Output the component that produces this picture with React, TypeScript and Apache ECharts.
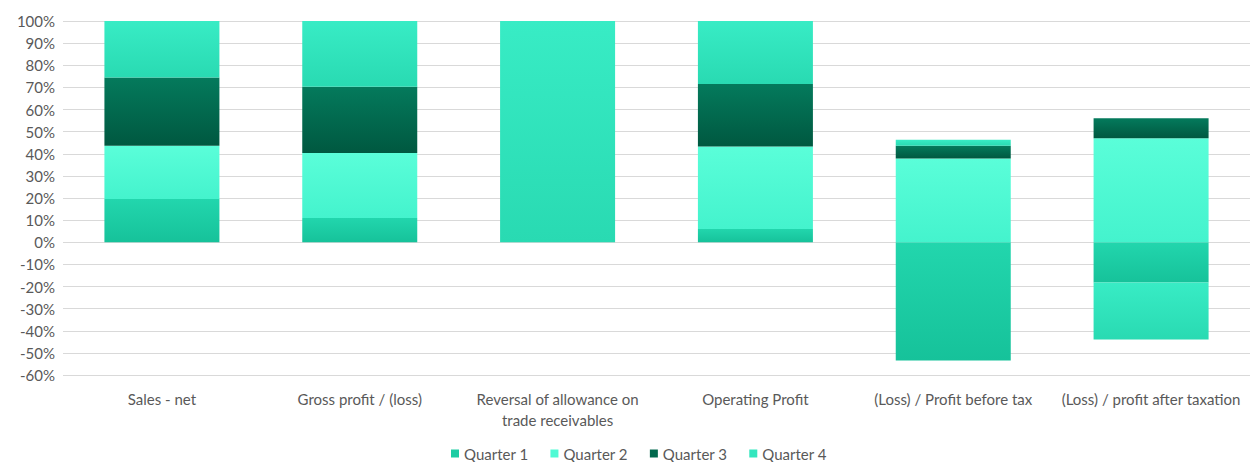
import React, { useEffect, useRef } from "react";
import * as echarts from "echarts";

const categories = [
  "Sales - net",
  "Gross profit / (loss)",
  "Reversal of allowance on\ntrade receivables",
  "Operating Profit",
  "(Loss) / Profit before tax",
  "(Loss) / profit after taxation",
];
const seriesNames = ["Quarter 1", "Quarter 2", "Quarter 3", "Quarter 4"];
const quarter1 = [19.5, 11, 0, 6, -53.5, -18.2];
const quarter2 = [24.1, 29.3, 0, 37.3, 37.9, 47];
const quarter3 = [30.9, 30, 0, 28.2, 5.7, 9];
const quarter4 = [25.5, 29.7, 100, 28.5, 2.7, -25.8];
const yMin = -60;
const yMax = 100;
const yStep = 10;

const palette = [
  { top: "#22d6ad", bottom: "#16c29a", legend: "#1dcca3" },
  { top: "#5afed9", bottom: "#44f3cd", legend: "#4ffad4" },
  { top: "#047a5c", bottom: "#005840", legend: "#02694e" },
  { top: "#38ecc5", bottom: "#29dab2", legend: "#33e6be" },
];

const FONT = "Lato, 'Open Sans', sans-serif";
const TEXT = "#595959";

export default function App() {
  const ref = useRef<HTMLDivElement>(null);
  useEffect(() => {
    if (!ref.current) return;
    const chart = echarts.init(ref.current, undefined, { renderer: "svg" });
    const values = [quarter1, quarter2, quarter3, quarter4];
    chart.setOption({
      animation: false,
      backgroundColor: "#ffffff",
      textStyle: { fontFamily: FONT },
      grid: { left: 63, right: 0, top: 21, bottom: 87, containLabel: false },
      legend: {
        top: 445,
        left: 451,
        padding: 0,
        itemWidth: 8,
        itemHeight: 8,
        itemGap: 22,
        icon: "rect",
        textStyle: { color: TEXT, fontSize: 15, fontFamily: FONT, lineHeight: 17 },
        data: seriesNames.map((n, i) => ({
          name: n,
          itemStyle: { color: palette[i].legend },
        })),
      },
      xAxis: {
        type: "category",
        data: categories,
        axisLine: { show: false, onZero: false },
        axisTick: { show: false },
        axisLabel: {
          color: TEXT,
          fontSize: 15,
          fontFamily: FONT,
          lineHeight: 21,
          margin: 13,
          interval: 0,
        },
      },
      yAxis: {
        type: "value",
        min: yMin,
        max: yMax,
        interval: yStep,
        axisLine: { show: false },
        axisTick: { show: false },
        axisLabel: {
          color: TEXT,
          fontSize: 15,
          fontFamily: FONT,
          margin: 8,
          formatter: "{value}%",
        },
        splitLine: { lineStyle: { color: "#d9d9d9", width: 1 } },
      },
      series: seriesNames.map((n, i) => ({
        name: n,
        type: "bar",
        stack: "total",
        barWidth: 115,
        data: values[i],
        itemStyle: {
          color: new echarts.graphic.LinearGradient(0, 0, 0, 1, [
            { offset: 0, color: palette[i].top },
            { offset: 1, color: palette[i].bottom },
          ]),
        },
      })),
    });
    return () => chart.dispose();
  }, []);
  return (
    <div
      ref={ref}
      style={{ position: "fixed", left: 0, top: 0, width: 1250, height: 462 }}
    />
  );
}
